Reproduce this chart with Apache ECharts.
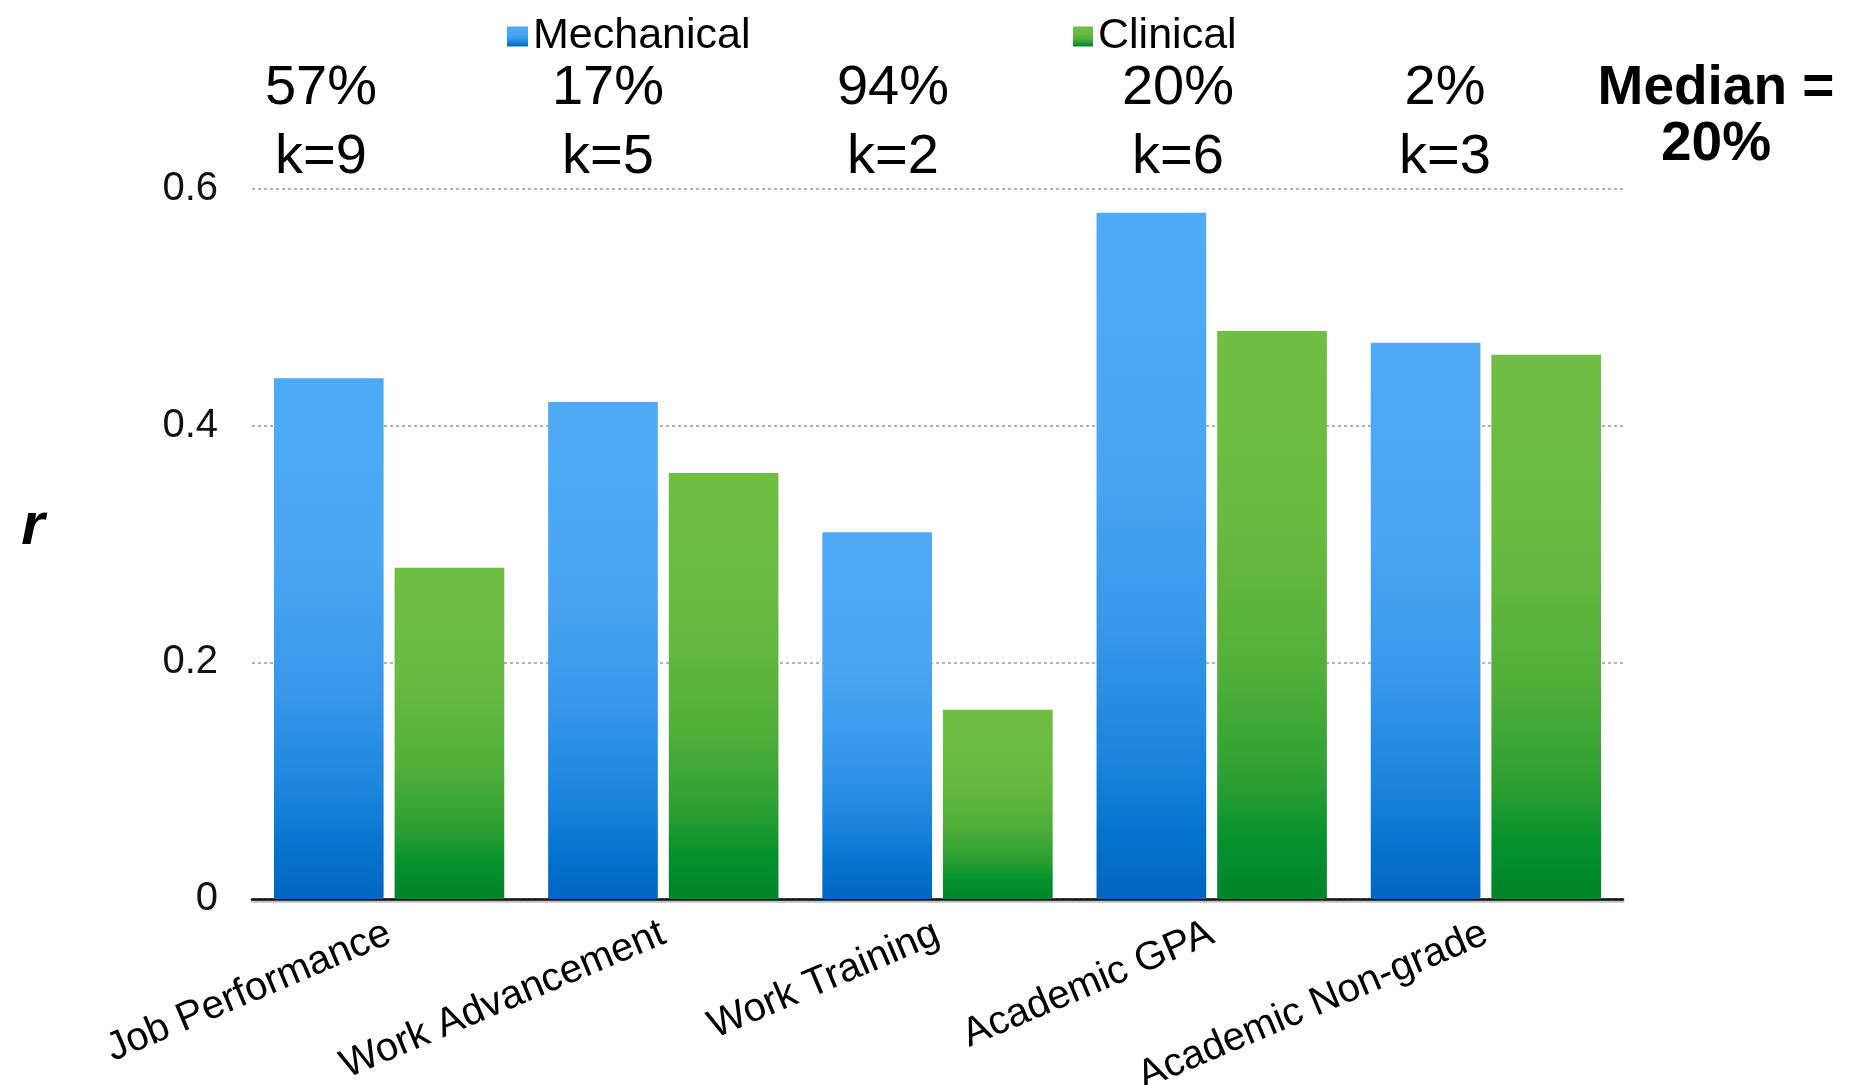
<!DOCTYPE html>
<html>
<head>
<meta charset="utf-8">
<script src="https://cdn.jsdelivr.net/npm/echarts@6/dist/echarts.min.js"></script>
<style>
html,body{margin:0;padding:0;background:#fff;}
#chart{width:1863px;height:1085px;}
</style>
</head>
<body>
<div id="chart"></div>
<script>
const categories = ['Job Performance', 'Work Advancement', 'Work Training', 'Academic GPA', 'Academic Non-grade'];
const mechanical = [0.44, 0.42, 0.31, 0.58, 0.47];
const clinical = [0.28, 0.36, 0.16, 0.48, 0.46];
const pctLabels = ['57%', '17%', '94%', '20%', '2%'];
const kLabels = ['k=9', 'k=5', 'k=2', 'k=6', 'k=3'];
const medianLines = ['Median =', '20%'];
const yTicks = [0, 0.2, 0.4, 0.6];
const yName = 'r';

// layout constants
const noteX = [321, 608, 893, 1178, 1445];
const FONT = '"Liberation Sans", Arial, Helvetica, sans-serif';

const blueGrad = new echarts.graphic.LinearGradient(0, 0, 0, 1, [
  {offset: 0, color: '#4FAAF6'},
  {offset: 0.35, color: '#4AA6F4'},
  {offset: 0.6, color: '#3898EA'},
  {offset: 0.8, color: '#1A84DC'},
  {offset: 0.9, color: '#0674CE'},
  {offset: 1, color: '#0066C0'}
]);
const greenGrad = new echarts.graphic.LinearGradient(0, 0, 0, 1, [
  {offset: 0, color: '#70BE44'},
  {offset: 0.35, color: '#68BA41'},
  {offset: 0.6, color: '#52AF3A'},
  {offset: 0.8, color: '#2A9E32'},
  {offset: 0.9, color: '#03912C'},
  {offset: 1, color: '#00842A'}
]);

const graphics = [];
pctLabels.forEach((t, i) => {
  graphics.push({type: 'text', x: noteX[i], y: 89, style: {text: t, font: '56px ' + FONT, fill: '#000', align: 'center', verticalAlign: 'middle'}});
  graphics.push({type: 'text', x: noteX[i], y: 158, style: {text: kLabels[i], font: '56px ' + FONT, fill: '#000', align: 'center', verticalAlign: 'middle'}});
});
graphics.push({type: 'text', x: 1716, y: 89, style: {text: medianLines[0], font: 'bold 55px ' + FONT, fill: '#000', align: 'center', verticalAlign: 'middle'}});
graphics.push({type: 'text', x: 1716, y: 145, style: {text: medianLines[1], font: 'bold 55px ' + FONT, fill: '#000', align: 'center', verticalAlign: 'middle'}});
graphics.push({type: 'text', x: 33, y: 527, style: {text: yName, font: 'italic bold 60px ' + FONT, fill: '#000', align: 'center', verticalAlign: 'middle'}});

const legendText = {fontSize: 43, color: '#000', fontFamily: FONT};
const option = {
  animation: false,
  backgroundColor: '#fff',
  grid: {left: 252, right: 240, top: 189, bottom: 186, containLabel: false, outerBoundsMode: 'none'},
  legend: [
    {data: ['Mechanical'], left: 502, top: 10, itemWidth: 21, itemHeight: 20, itemGap: 10, textStyle: legendText, icon: 'rect'},
    {data: ['Clinical'], left: 1068, top: 10, itemWidth: 20, itemHeight: 20, itemGap: 10, textStyle: legendText, icon: 'rect'}
  ],
  xAxis: {
    type: 'category',
    data: categories,
    axisLine: {show: true, lineStyle: {color: '#111', width: 2.5, shadowColor: 'rgba(0,0,0,0.25)', shadowOffsetY: 2, shadowBlur: 0}},
    axisTick: {show: false},
    axisLabel: {rotate: 23, margin: 33, fontSize: 40, color: '#000', fontFamily: FONT, interval: 0}
  },
  yAxis: {
    type: 'value',
    min: 0, max: 0.6, interval: 0.2,
    axisLine: {show: false},
    axisTick: {show: false},
    axisLabel: {margin: 34, fontSize: 40, color: '#111', fontFamily: FONT, formatter: v => (yTicks.indexOf(Math.round(v*10)/10) >= 0 ? String(Math.round(v*10)/10) : '')},
    splitLine: {show: true, lineStyle: {color: '#9a9a9a', width: 1.5, type: [3, 3]}}
  },
  series: [
    {name: 'Mechanical', type: 'bar', data: mechanical, barGap: '10%', barCategoryGap: '16%', itemStyle: {color: blueGrad}},
    {name: 'Clinical', type: 'bar', data: clinical, barGap: '10%', barCategoryGap: '16%', itemStyle: {color: greenGrad}}
  ],
  graphic: graphics
};
const chart = echarts.init(document.getElementById('chart'), null, {renderer: 'canvas'});
chart.setOption(option);
</script>
</body>
</html>
